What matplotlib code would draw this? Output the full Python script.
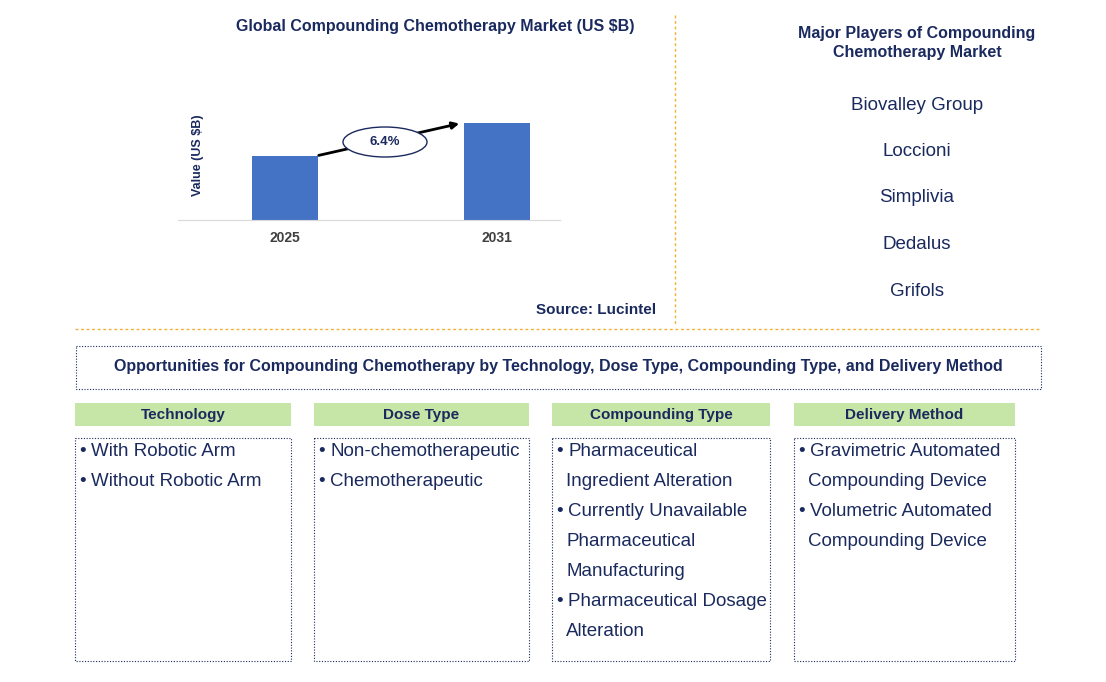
import matplotlib.pyplot as plt
from matplotlib.patches import Rectangle, Ellipse

years = ['2025', '2031']
values = [1.0, 1.52]
cagr_label = '6.4%'
players = ['Biovalley Group', 'Loccioni', 'Simplivia', 'Dedalus', 'Grifols']
segments = ['Technology', 'Dose Type', 'Compounding Type', 'Delivery Method']
segment_items = [
    [['With Robotic Arm'], ['Without Robotic Arm']],
    [['Non-chemotherapeutic'], ['Chemotherapeutic']],
    [['Pharmaceutical', 'Ingredient Alteration'],
     ['Currently Unavailable', 'Pharmaceutical', 'Manufacturing'],
     ['Pharmaceutical Dosage', 'Alteration']],
    [['Gravimetric Automated', 'Compounding Device'],
     ['Volumetric Automated', 'Compounding Device']],
]

W, H = 1106, 682
navy = '#1a2a5e'
plt.rcParams['font.family'] = 'Liberation Sans'
fig = plt.figure(figsize=(W / 100, H / 100), dpi=100)

# overlay in pixel coords
ov = fig.add_axes([0, 0, 1, 1])
ov.set_xlim(0, W)
ov.set_ylim(H, 0)
ov.axis('off')

# bar chart
x0, x1, ybot, ytop = 178, 560, 220, 100
ax = fig.add_axes([x0 / W, 1 - ybot / H, (x1 - x0) / W, (ybot - ytop) / H])
ax.bar([0, 1], values, width=0.311, color='#4472c4')
ax.set_xlim(-0.505, 1.297)
ax.set_ylim(0, values[1] * 120 / 97)
ax.set_xticks([0, 1])
ax.set_xticklabels(years, fontsize=10, fontweight='bold', color='#404040')
ax.set_yticks([])
for s in ['top', 'right', 'left']:
    ax.spines[s].set_visible(False)
ax.spines['bottom'].set_color('#d9d9d9')
ax.tick_params(axis='x', length=0, pad=8)
ax.patch.set_alpha(0)
ov.text(198, 155, 'Value (US $B)', rotation=90, ha='center', va='center',
        fontsize=9, fontweight='bold', color=navy)

ov.annotate('', xy=(462, 123), xytext=(316, 156),
            arrowprops=dict(arrowstyle='-|>', color='black', lw=2), zorder=1)
ov.add_patch(Ellipse((385, 142), 84, 30, facecolor='white', edgecolor=navy, lw=1, zorder=2))
ov.text(385, 142, cagr_label, ha='center', va='center', fontsize=9.5, fontweight='bold',
        color=navy, zorder=3)

ov.text(435, 27, 'Global Compounding Chemotherapy Market (US $B)', ha='center', va='center',
        fontsize=11.5, fontweight='bold', color=navy)
ov.text(656, 310, 'Source: Lucintel', ha='right', va='center', fontsize=11, fontweight='bold', color=navy)

# separators
ov.plot([675, 675], [15, 325], color='#f0b030', lw=1, ls=(0, (2, 2)))
ov.plot([75, 1040], [329, 329], color='#f0b030', lw=1, ls=(0, (2, 2)))

# players
ov.text(917, 43, 'Major Players of Compounding\nChemotherapy Market', ha='center', va='center',
        fontsize=11.5, fontweight='bold', color=navy, linespacing=1.3)
for i, p in enumerate(players):
    ov.text(917, 105 + i * 46.5, p, ha='center', va='center', fontsize=13.5, color=navy)

# opportunities box
ov.add_patch(Rectangle((76, 346), 965, 43, fill=False, edgecolor=navy, lw=0.8, ls=(0, (1, 1.5))))
ov.text(558, 367, 'Opportunities for Compounding Chemotherapy by Technology, Dose Type, Compounding Type, and Delivery Method',
        ha='center', va='center', fontsize=11.5, fontweight='bold', color=navy)

lefts = [75, 314, 552, 794]
widths = [216, 215, 218, 221]
for left, w, seg, items in zip(lefts, widths, segments, segment_items):
    ov.add_patch(Rectangle((left, 403), w, 23, facecolor='#c5e6a6', edgecolor='none'))
    ov.text(left + w / 2, 414.5, seg, ha='center', va='center', fontsize=11, fontweight='bold', color=navy)
    ov.add_patch(Rectangle((left, 438), w, 223, fill=False, edgecolor=navy, lw=0.8, ls=(0, (1, 1.5))))
    y = 452
    for lines in items:
        ov.text(left + 4, y, '•', ha='left', va='center', fontsize=13.5, color=navy)
        for k, ln in enumerate(lines):
            ov.text(left + (16 if k == 0 else 14), y, ln, ha='left', va='center', fontsize=13.5, color=navy)
            y += 30

fig.savefig('out.png', dpi=100)
